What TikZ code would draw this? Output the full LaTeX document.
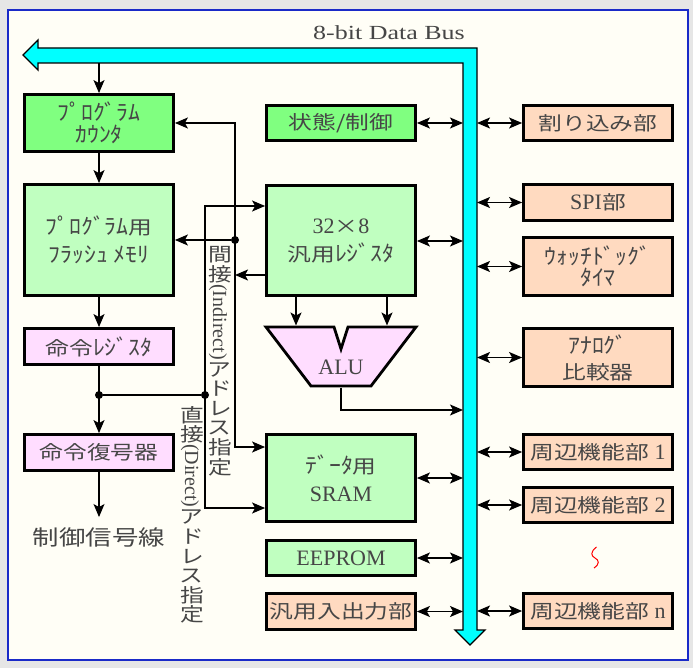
\documentclass[tikz,border=0pt]{standalone}
\usepackage{fontspec}
\usepackage{graphicx}
\setmainfont{Liberation Serif}
\newfontfamily\jp{Noto Sans CJK JP}[Scale=0.864,FakeStretch=1.25]
\usetikzlibrary{arrows.meta,calc}
\definecolor{txt}{HTML}{464646}
\definecolor{bggrey}{HTML}{E6E6E6}
\definecolor{ivory}{HTML}{FFFEF6}
\definecolor{panelblue}{HTML}{1A2AC8}
\definecolor{busc}{HTML}{00FFFF}
\definecolor{gA}{HTML}{80FF80}
\definecolor{gB}{HTML}{C0FFC0}
\definecolor{pk}{HTML}{FFDDFF}
\definecolor{pc}{HTML}{FFDAC0}
\newcommand\vj[1]{\makebox[19.5pt][c]{\rotatebox[origin=c]{90}{\fontsize{22}{22}\selectfont\jp #1}}}
\newcommand\hk[1]{\scalebox{1}[1.15]{\jp #1}}
\tikzset{
  box/.style={draw=black, line width=2.8pt, text=txt, inner sep=0pt, align=center,
    minimum width=149pt, font=\fontsize{22}{26}\selectfont},
  arr/.style={line width=1.3pt, -{Stealth[length=13pt,width=11pt,inset=3pt]}},
  darr/.style={line width=1.3pt, {Stealth[length=13pt,width=11pt,inset=3pt]}-{Stealth[length=13pt,width=11pt,inset=3pt]}},
  plain/.style={line width=1.3pt},
  dot/.style={circle, fill=black, inner sep=0pt, minimum size=8pt},
  vtext/.style={rotate=-90, anchor=west, inner sep=0pt, text=txt, font=\fontsize{20}{20}\selectfont},
}
\begin{document}
\begin{tikzpicture}[x=1pt,y=-1pt]
\useasboundingbox (0,0) rectangle (693,668);
\fill[bggrey] (0,0) rectangle (693,668);
\draw[panelblue, line width=1.6pt, fill=ivory] (8,10) rectangle (688,660);

% data bus
\draw[line width=1.3pt, fill=busc, line join=miter]
  (23,55) -- (38,40) -- (38,48) -- (477,48) -- (477,630) -- (485,630) -- (470,645)
  -- (455,630) -- (463,630) -- (463,63) -- (38,63) -- (38,70) -- cycle;
\node[text=txt, font=\fontsize{20}{20}\selectfont, inner sep=0pt] (buslabel) at (389,33) {\scalebox{1.3}[1]{8-bit Data Bus}};
\coordinate (busL) at (463,0);
\coordinate (busR) at (477,0);
\coordinate (busTop) at (99,63);

% left column
\node[box, fill=gA, minimum height=57pt, font=\fontsize{22}{22}\selectfont] (pcnt) at (99,123) {\hk{ﾌﾟﾛｸﾞﾗﾑ}\\\hk{ｶｳﾝﾀ}};
\node[box, fill=gB, minimum height=111pt, font=\fontsize{22}{28}\selectfont] (flash) at (99,240) {\hk{ﾌﾟﾛｸﾞﾗﾑ}{\jp 用}\\\hk{ﾌﾗｯｼｭ ﾒﾓﾘ}};
\node[box, fill=pk, minimum height=36pt] (ir) at (99,346.5) {{\jp 命令}\hk{ﾚｼﾞｽﾀ}};
\node[box, fill=pk, minimum height=36pt] (dec) at (99,452.5) {\jp 命令復号器};
\node[text=txt, inner sep=0pt, font=\fontsize{24.5}{28}\selectfont] (ctl) at (99,537) {\jp 制御信号線};

% center column
\node[box, fill=gA, minimum height=35pt] (st) at (341,123) {\jp 状態/制御};
\node[box, fill=gB, minimum height=110pt, font=\fontsize{22}{28}\selectfont] (reg) at (341,240.5) {32{\jp ×}8\\{\jp 汎用}\hk{ﾚｼﾞｽﾀ}};
\node[box, fill=gB, minimum height=87pt, font=\fontsize{22}{28}\selectfont] (sram) at (341,478) {\hk{ﾃﾞｰﾀ}{\jp 用}\\SRAM};
\node[box, fill=gB, minimum height=35pt] (eep) at (341,558) {EEPROM};
\node[box, fill=pc, minimum height=36pt] (gpio) at (341,611.5) {\jp 汎用入出力部};

% ALU
\draw[line width=2.8pt, fill=pk, line join=miter]
  (266,327) -- (334,327) -- (341,349) -- (348,327) -- (416,327) -- (371,386) -- (311,386) -- cycle;
\node[text=txt, inner sep=0pt, font=\fontsize{22}{22}\selectfont] (alu) at (341,367) {ALU};
\coordinate (aluInA) at (296,325.5);
\coordinate (aluInB) at (387,325.5);
\coordinate (aluOut) at (341,387.5);
\coordinate (aluCorner) at (341,410);

% right column
\node[box, fill=pc, minimum height=35pt] (int) at (598,123) {\jp 割り込み部};
\node[box, fill=pc, minimum height=36pt] (spi) at (598,202.5) {SPI{\jp 部}};
\node[box, fill=pc, minimum height=58pt, font=\fontsize{22}{21}\selectfont] (wdt) at (598,266.5) {\hk{ｳｫｯﾁﾄﾞｯｸﾞ}\\\hk{ﾀｲﾏ}};
\node[box, fill=pc, minimum height=58pt, font=\fontsize{22}{26}\selectfont] (ana) at (598,357.5) {\hk{ｱﾅﾛｸﾞ}\\{\jp 比較器}};
\node[box, fill=pc, minimum height=35pt] (p1) at (598,452) {{\jp 周辺機能部} 1};
\node[box, fill=pc, minimum height=35pt] (p2) at (598,505) {{\jp 周辺機能部} 2};
\node[box, fill=pc, minimum height=35pt] (pn) at (598,611) {{\jp 周辺機能部} n};
\draw[red, line width=1pt] (596.5,547) .. controls (590,552) and (591,556) .. (595,558) .. controls (599,560) and (600,564) .. (594,568);

% left column flow
\draw[arr] (busTop) -- (pcnt.north);
\draw[arr] (pcnt.south) -- (flash.north);
\draw[arr] (flash.south) -- (ir.north);
\node[dot] (dA) at (99,395) {};
\node[dot] (dB) at (205,395) {};
\node[dot] (dI) at (235,240) {};
\draw[arr] (ir.south) -- (dec.north);
\draw[arr] (dec.south) -- ([yshift=10pt]ctl.north);
\draw[plain] (dA) -- (dB);

% indirect addressing line
\coordinate (aTop) at (235,123);
\coordinate (aBot) at (235,447);
\coordinate (regOut) at (263,275);
\draw[arr] (dI.center) -- (aTop) -- (pcnt.east);
\draw[arr] (dI) -- (flash.east);
\draw[arr] (dI.center) -- (aBot) -- (sram.west |- aBot);
\draw[arr] (reg.west |- regOut) -- (aTop |- regOut);

% direct addressing line
\coordinate (bTop) at (205,206);
\coordinate (bBot) at (205,508);
\draw[arr] (dB.center) -- (bTop) -- (reg.west |- bTop);
\draw[arr] (dB.center) -- (bBot) -- (sram.west |- bBot);

\node[vtext] (indl) at (220,245) {\vj{間}\vj{接}(Indirect)\vj{ア}\vj{ド}\vj{レ}\vj{ス}\vj{指}\vj{定}};
\node[vtext] (dirl) at (192,405) {\vj{直}\vj{接}(Direct)\vj{ア}\vj{ド}\vj{レ}\vj{ス}\vj{指}\vj{定}};

% ALU connections
\draw[arr] (reg.south -| aluInA) -- (aluInA);
\draw[arr] (reg.south -| aluInB) -- (aluInB);
\draw[arr] (aluOut) -- (aluCorner) -- (busL |- aluCorner);

% bus connections
\draw[darr] (st.east) -- (st.east -| busL);
\draw[darr] ([yshift=-0.5pt]reg.east) -- ([yshift=-0.5pt]reg.east -| busL);
\draw[darr] (sram.east) -- (sram.east -| busL);
\draw[darr] (eep.east) -- (eep.east -| busL);
\draw[darr] (gpio.east) -- (gpio.east -| busL);
\draw[darr] (busR |- int.west) -- (int.west);
\draw[darr] (busR |- spi.west) -- (spi.west);
\draw[darr] (busR |- wdt.west) -- (wdt.west);
\draw[darr] (busR |- ana.west) -- (ana.west);
\draw[darr] (busR |- p1.west) -- (p1.west);
\draw[darr] (busR |- p2.west) -- (p2.west);
\draw[darr] (busR |- pn.west) -- (pn.west);
\end{tikzpicture}
\end{document}
